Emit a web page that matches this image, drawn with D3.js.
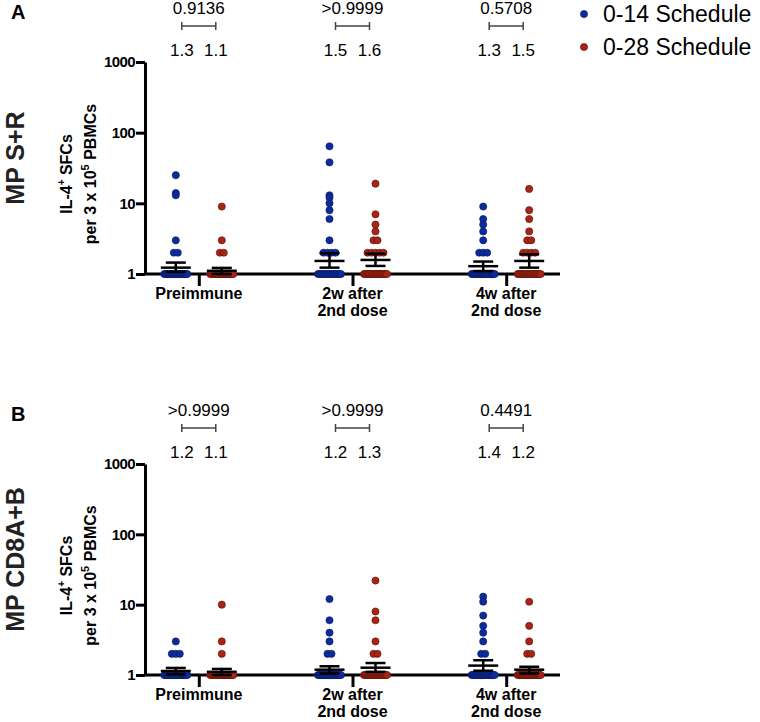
<!DOCTYPE html>
<html>
<head>
<meta charset="utf-8">
<script src="https://cdn.jsdelivr.net/npm/d3@7"></script>
<style>
  body { margin: 0; background: #fff; }
  svg { font-family: "Liberation Sans", Arial, sans-serif; }
</style>
</head>
<body>
<script>
const width = 760;
const height = 722;
const plotLeft = 145;
const plotRight = 560;

const groups = ['Preimmune', '2w after|2nd dose', '4w after|2nd dose'];
const schedules = ['0-14 Schedule', '0-28 Schedule'];
const colors = ['#0c2c9e', '#a82414'];
const strokes = ['#081a5c', '#5c1008'];
const yTicks = [1, 10, 100, 1000];

// each column = [value, count] pairs
const srData014 = [
  [[25, 1], [14, 1], [13, 1], [3, 1], [2, 2], [1, 24]],
  [[64, 1], [38, 1], [13, 1], [12, 1], [10, 1], [8, 1], [6, 1], [3, 1], [2, 4], [1, 18]],
  [[9, 1], [6, 1], [5, 1], [4, 1], [3, 1], [2, 3], [1, 22]]
];
const srData028 = [
  [[9, 1], [3, 1], [2, 2], [1, 26]],
  [[19, 1], [7, 1], [5, 1], [4, 1], [3, 2], [2, 5], [1, 19]],
  [[16, 1], [8, 1], [6, 1], [4, 1], [3, 2], [2, 4], [1, 20]]
];
const cdData014 = [
  [[3, 1], [2, 3], [1, 26]],
  [[12, 1], [6, 1], [4, 1], [3, 1], [2, 2], [1, 25]],
  [[13, 1], [11, 1], [7, 1], [5, 1], [4, 1], [3, 1], [2, 2], [1, 22]]
];
const cdData028 = [
  [[10, 1], [3, 1], [2, 1], [1, 27]],
  [[22, 1], [8, 1], [6, 1], [3, 1], [2, 2], [1, 24]],
  [[11, 1], [5, 1], [3, 1], [2, 2], [1, 25]]
];

// error bars [low, mean, high]
const srBars014 = [[1.07, 1.23, 1.45], [1.23, 1.53, 1.97], [1.1, 1.29, 1.5]];
const srBars028 = [[1.0, 1.11, 1.22], [1.3, 1.58, 1.94], [1.23, 1.53, 1.9]];
const cdBars014 = [[1.02, 1.14, 1.26], [1.05, 1.19, 1.33], [1.15, 1.36, 1.62]];
const cdBars028 = [[1.0, 1.11, 1.22], [1.11, 1.27, 1.48], [1.05, 1.19, 1.31]];

const srMeans = [['1.3', '1.1'], ['1.5', '1.6'], ['1.3', '1.5']];
const cdMeans = [['1.2', '1.1'], ['1.2', '1.3'], ['1.4', '1.2']];
const srPvals = ['0.9136', '>0.9999', '0.5708'];
const cdPvals = ['>0.9999', '>0.9999', '0.4491'];

const panels = [
  {letter: 'A', name: 'MP S+R', top: 62, bottom: 274, data: [srData014, srData028],
   bars: [srBars014, srBars028], means: srMeans, pvals: srPvals},
  {letter: 'B', name: 'MP CD8A+B', top: 464, bottom: 675, data: [cdData014, cdData028],
   bars: [cdBars014, cdBars028], means: cdMeans, pvals: cdPvals}
];

const svg = d3.select('body').append('svg')
  .attr('width', width).attr('height', height);

const x = d3.scalePoint().domain(groups).range([plotLeft, plotRight]).padding(0.35);
const xSub = d3.scalePoint().domain(schedules).range([-23, 23]);
const xBracket = d3.scalePoint().domain(schedules).range([-17, 17]);

for (const p of panels) {
  const g = svg.append('g');
  const y = d3.scaleLog().domain([1, 1000]).range([p.bottom, p.top]);

  // y axis
  const yAxis = g.append('g')
    .attr('transform', `translate(${plotLeft},0)`)
    .call(d3.axisLeft(y).tickValues(yTicks).tickFormat(d3.format('d'))
      .tickSize(9).tickSizeOuter(0).tickPadding(1));
  yAxis.select('.domain').attr('stroke-width', 3);
  yAxis.selectAll('.tick line').attr('stroke-width', 3);
  yAxis.selectAll('.tick text').attr('font-size', 15).attr('font-weight', 'bold')
    .attr('letter-spacing', -0.6)
    .attr('font-family', '"Liberation Sans", Arial, sans-serif').attr('fill', '#000');

  // x axis
  const xAxis = g.append('g')
    .attr('transform', `translate(0,${p.bottom})`)
    .call(d3.axisBottom(x).tickSize(12).tickFormat(''));
  xAxis.select('.domain').remove();
  xAxis.selectAll('.tick line').attr('stroke-width', 3);
  g.append('line')
    .attr('x1', plotLeft).attr('x2', plotRight)
    .attr('y1', p.bottom).attr('y2', p.bottom)
    .attr('stroke', '#000').attr('stroke-width', 3);

  g.selectAll('.cat').data(groups).join('text')
    .attr('class', 'cat')
    .attr('text-anchor', 'middle')
    .attr('font-size', 16).attr('font-weight', 'bold')
    .each(function(d) {
      const t = d3.select(this);
      d.split('|').forEach((line, i) => {
        t.append('tspan').attr('x', x(d)).attr('y', p.bottom + 25 + i * 17).text(line);
      });
    });

  // dots
  schedules.forEach((s, si) => {
    groups.forEach((grp, gi) => {
      const cx = x(grp) + xSub(s);
      const pts = [];
      for (const [v, n] of p.data[si][gi]) {
        const step = n > 1 ? Math.min(4, 23 / (n - 1)) : 0;
        for (let k = 0; k < n; k++) {
          pts.push({v: v, dx: (k - (n - 1) / 2) * step});
        }
      }
      g.append('g').selectAll('circle').data(pts).join('circle')
        .attr('cx', d => cx + d.dx)
        .attr('cy', d => y(d.v))
        .attr('r', 3.6)
        .attr('fill', colors[si])
        .attr('stroke', strokes[si])
        .attr('stroke-width', 0.6);
    });
  });

  // mean +/- sem bars
  schedules.forEach((s, si) => {
    groups.forEach((grp, gi) => {
      const cx = x(grp) + xSub(s);
      const [lo, mean, hi] = p.bars[si][gi];
      const eb = g.append('g').attr('stroke', '#000').attr('stroke-width', 2.5);
      eb.append('line').attr('x1', cx).attr('x2', cx).attr('y1', y(lo)).attr('y2', y(hi));
      eb.append('line').attr('x1', cx - 15).attr('x2', cx + 15).attr('y1', y(mean)).attr('y2', y(mean));
      eb.append('line').attr('x1', cx - 10).attr('x2', cx + 10).attr('y1', y(hi)).attr('y2', y(hi));
      eb.append('line').attr('x1', cx - 10).attr('x2', cx + 10).attr('y1', y(lo)).attr('y2', y(lo));
    });
  });

  // p values, brackets and mean labels
  groups.forEach((grp, gi) => {
    const cx = x(grp);
    const by = p.top - 36;
    g.append('text').attr('x', cx).attr('y', p.top - 48)
      .attr('text-anchor', 'middle').attr('font-size', 17).text(p.pvals[gi]);
    g.append('path')
      .attr('d', `M${cx + xBracket(schedules[0])},${by - 4}v8M${cx + xBracket(schedules[0])},${by}H${cx + xBracket(schedules[1])}M${cx + xBracket(schedules[1])},${by - 4}v8`)
      .attr('fill', 'none').attr('stroke', '#444').attr('stroke-width', 1.5);
    schedules.forEach((s, si) => {
      g.append('text').attr('x', cx + xBracket(s)).attr('y', p.top - 6)
        .attr('text-anchor', 'middle').attr('font-size', 17).text(p.means[gi][si]);
    });
  });

  // y titles
  const mid = (p.top + p.bottom) / 2 + 6;
  const yt = g.append('text').attr('transform', `translate(72,${mid}) rotate(-90)`)
    .attr('text-anchor', 'middle').attr('font-size', 16).attr('font-weight', 'bold');
  yt.append('tspan').text('IL-4');
  yt.append('tspan').attr('font-size', 10).attr('dy', -7).text('+');
  yt.append('tspan').attr('dy', 7).text(' SFCs');
  const yt2 = g.append('text').attr('transform', `translate(96,${mid}) rotate(-90)`)
    .attr('text-anchor', 'middle').attr('font-size', 16).attr('font-weight', 'bold');
  yt2.append('tspan').text('per 3 x 10');
  yt2.append('tspan').attr('font-size', 11).attr('dy', -7).text('5');
  yt2.append('tspan').attr('dy', 7).text(' PBMCs');

  g.append('text').attr('transform', `translate(24,${(p.top + p.bottom) / 2 - 10}) rotate(-90)`)
    .attr('text-anchor', 'middle').attr('font-size', 25).attr('font-weight', 'bold')
    .attr('fill', '#222').text(p.name);

  g.append('text').attr('x', 11).attr('y', p.top - 43)
    .attr('font-size', 20).attr('font-weight', 'bold').text(p.letter);
}

// legend
const legend = svg.append('g');
schedules.forEach((s, i) => {
  const ly = 14 + i * 33;
  legend.append('circle').attr('cx', 584).attr('cy', ly).attr('r', 3.6)
    .attr('fill', colors[i]).attr('stroke', strokes[i]).attr('stroke-width', 0.6);
  legend.append('text').attr('x', 603).attr('y', ly).attr('dy', '0.35em')
    .attr('font-size', 23).text(s);
});
</script>
</body>
</html>
